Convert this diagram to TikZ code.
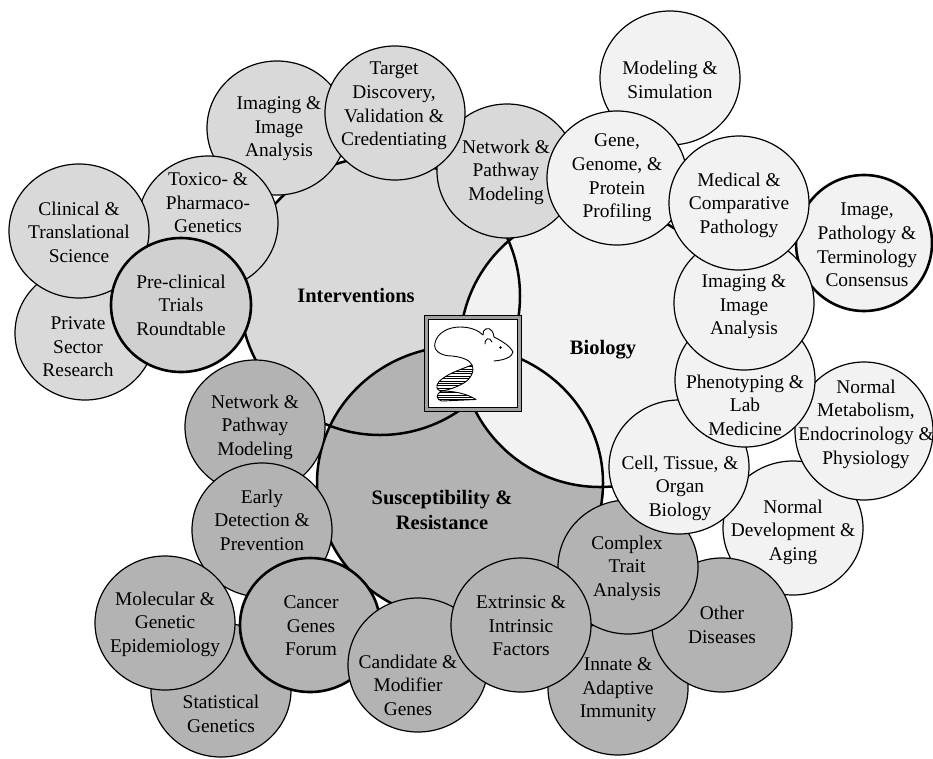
\documentclass[tikz,border=0pt]{standalone}
\usepackage{fontspec}
\setmainfont{Liberation Serif}
\usetikzlibrary{shapes.geometric}
\definecolor{fillIntv}{RGB}{217,217,217}
\definecolor{fillPre}{RGB}{208,208,208}
\definecolor{fillBio}{RGB}{242,242,242}
\definecolor{fillSus}{RGB}{179,179,179}
\definecolor{frameGray}{RGB}{160,160,160}

\begin{document}
\begin{tikzpicture}[x=1pt,y=-1pt,
  areashape/.style={ellipse, inner sep=0pt, outer sep=0pt},
  rim/.style={areashape, draw=black, line width=2.5pt},
  bub/.style={ellipse, draw=black, line width=1.2pt, minimum width=140pt,
              minimum height=134pt, inner sep=0pt, outer sep=0pt},
  keybub/.style={bub, line width=2.6pt},
  intv/.style={bub, fill=fillIntv},
  bio/.style={bub, fill=fillBio},
  sus/.style={bub, fill=fillSus},
  lbl/.style={align=center, inner sep=0pt, font=\fontsize{19.4}{23.6}\selectfont},
  head/.style={align=center, inner sep=0pt, font=\fontsize{20.5}{25}\selectfont\bfseries},
  mouse/.style={line width=0.9pt, line cap=round, line join=round},
]
\useasboundingbox (0,0) rectangle (933,758);

% ---- the three research areas: fills first, then their rims ----
\node[areashape, fill=fillIntv, minimum width=280pt, minimum height=278pt] (intv) at (380,296) {};
\node[areashape, fill=fillSus,  minimum width=286pt, minimum height=274pt] (sus)  at (460,483) {};
\node[areashape, fill=fillBio,  minimum width=280pt, minimum height=280pt] (bio)  at (600,347) {};
\node[rim, minimum width=280pt, minimum height=278pt] (intv-rim) at (intv) {};
\node[rim, minimum width=286pt, minimum height=274pt] (sus-rim)  at (sus)  {};
\node[rim, minimum width=280pt, minimum height=280pt] (bio-rim)  at (bio)  {};

\node[head] (intv-t) at (356,295) {Interventions};
\node[head] (bio-t)  at (603,350) {Biology};
\node[head] (sus-t)  at (442,510) {Susceptibility \&\\Resistance};

% ---- Interventions working groups ----
\node[intv] (netA) at (507,171) {};
\node[intv] (imgA) at (277,128) {};
\node[intv] (targ) at (395,113) {};
\node[intv] (tox)  at (208,223) {};
\node[intv] (priv) at (85,333)  {};
\node[intv] (clin) at (79,231)  {};
\node[keybub, fill=fillPre] (pre) at (181,305) {};

\node[lbl] (netA-t) at (506,172) {Network \&\\Pathway\\Modeling};
\node[lbl] (imgA-t) at (279,129) {Imaging \&\\Image\\Analysis};
\node[lbl] (targ-t) at (394,106) {Target\\Discovery,\\Validation \&\\Credentiating};
\node[lbl] (tox-t)  at (208,203) {Toxico- \&\\Pharmaco-\\Genetics};
\node[lbl] (priv-t) at (78,347)  {Private\\Sector\\Research};
\node[lbl] (clin-t) at (79,232)  {Clinical \&\\Translational\\Science};
\node[lbl] (pre-t)  at (181,305) {Pre-clinical\\Trials\\Roundtable};

% ---- Susceptibility & Resistance and Biology working groups ----
\node[sus] (netD)    at (255,427) {};
\node[sus] (early)   at (262,530) {};
\node[sus] (stat)    at (221,690) {};
\node[sus] (molec)   at (165,623) {};
\node[keybub, fill=fillSus] (cancer) at (310,625) {};
\node[sus] (cand)    at (418,665) {};
\node[sus] (innate)  at (618,688) {};
\node[bio] (ndev)    at (793,528) {};
\node[sus] (other)   at (722,625) {};
\node[sus] (complex) at (628,567) {};
\node[sus] (extr)    at (521,625) {};
\node[bio] (model)   at (670,78)  {};
\node[bio] (gene)    at (617,178) {};
\node[keybub, fill=fillBio, minimum width=136pt, minimum height=136pt] (cons) at (864,243) {};
\node[bio, minimum width=138pt, minimum height=138pt] (metab) at (864,431) {};
\node[bio] (cell)    at (679,467) {};
\node[bio] (pheno)   at (745,380) {};
\node[bio] (imgB)    at (744,303) {};
\node[bio] (med)     at (739,203) {};

\node[lbl] (netD-t)    at (255,427) {Network \&\\Pathway\\Modeling};
\node[lbl] (early-t)   at (262,520) {Early\\Detection \&\\Prevention};
\node[lbl] (stat-t)    at (221,714) {Statistical\\Genetics};
\node[lbl] (molec-t)   at (165,624) {Molecular \&\\Genetic\\Epidemiology};
\node[lbl] (cancer-t)  at (311,626) {Cancer\\Genes\\Forum};
\node[lbl] (cand-t)    at (408,685) {Candidate \&\\Modifier\\Genes};
\node[lbl] (innate-t)  at (618,690) {Innate \&\\Adaptive\\Immunity};
\node[lbl] (ndev-t)    at (793,532) {Normal\\Development \&\\Aging};
\node[lbl] (other-t)   at (722,625) {Other\\Diseases};
\node[lbl] (complex-t) at (627,568) {Complex\\Trait\\Analysis};
\node[lbl] (extr-t)    at (521,626) {Extrinsic \&\\Intrinsic\\Factors};
\node[lbl] (model-t)   at (670,80)  {Modeling \&\\Simulation};
\node[lbl] (gene-t)    at (617,178) {Gene,\\Genome, \&\\Protein\\Profiling};
\node[lbl] (cons-t)    at (867,245) {Image,\\Pathology \&\\Terminology\\Consensus};
\node[lbl] (metab-t)   at (866,424) {Normal\\Metabolism,\\Endocrinology \&\\Physiology};
\node[lbl] (cell-t)    at (680,488) {Cell, Tissue, \&\\Organ\\Biology};
\node[lbl] (pheno-t)   at (745,405) {Phenotyping \&\\Lab\\Medicine};
\node[lbl] (imgB-t)    at (744,307) {Imaging \&\\Image\\Analysis};
\node[lbl] (med-t)     at (739,205) {Medical \&\\Comparative\\Pathology};

% ---- central emblem: mouse over a DNA helix in a double frame ----
\node[draw=black, line width=0.9pt, fill=frameGray, minimum width=97pt, minimum height=96pt,
      inner sep=0pt] (icon) at (472.5,363) {};
\node[draw=black, line width=0.9pt, fill=white, minimum width=89pt, minimum height=88pt,
      inner sep=0pt] (icon-in) at (icon) {};

% helix lobes, hatched
\begin{scope}
  \clip (472,365) .. controls (462,369) and (440,376) .. (437,385)
        .. controls (436,389) and (439,391) .. (442,391)
        .. controls (447,390) and (455,388) .. (462,384)
        .. controls (470,380) and (475,372) .. (472,365) -- cycle;
  \foreach \yy in {364,366.4,...,393} \draw[line width=0.5pt] (430,\yy) -- (480,\yy);
\end{scope}
\begin{scope}
  \clip (442,391) .. controls (435,394) and (436,400) .. (442,401)
        -- (476,399.5) .. controls (466,393) and (452,391) .. (442,391) -- cycle;
  \foreach \yy in {390,392.4,...,403} \draw[line width=0.5pt] (430,\yy) -- (480,\yy);
\end{scope}
\draw[mouse] (472,365) .. controls (462,369) and (440,376) .. (437,385)
        .. controls (436,389) and (439,391) .. (442,391)
        .. controls (435,394) and (436,400) .. (442,401) -- (476,399.5)
        .. controls (466,393) and (452,391) .. (442,391);
\draw[mouse] (472,365) .. controls (475,372) and (470,380) .. (462,384)
        .. controls (455,388) and (447,390) .. (442,391);

% mouse outline
\draw[mouse] (472,365) .. controls (470,360) and (462,357) .. (452,356)
        .. controls (440,356) and (433,350) .. (435,343)
        .. controls (437,333) and (448,327) .. (460,327)
        .. controls (470,327) and (478,330) .. (483,335)
        .. controls (482,329) and (489,326) .. (492,331)
        .. controls (493,333) and (494,335) .. (494,337)
        .. controls (502,341) and (510,346) .. (513,352)
        .. controls (512,357) and (505,360) .. (494,361);
\draw[mouse] (485,344) .. controls (484,339) and (490,336) .. (492,342);
\fill (500.5,347.5) circle[radius=1.3pt];
\end{tikzpicture}
\end{document}
